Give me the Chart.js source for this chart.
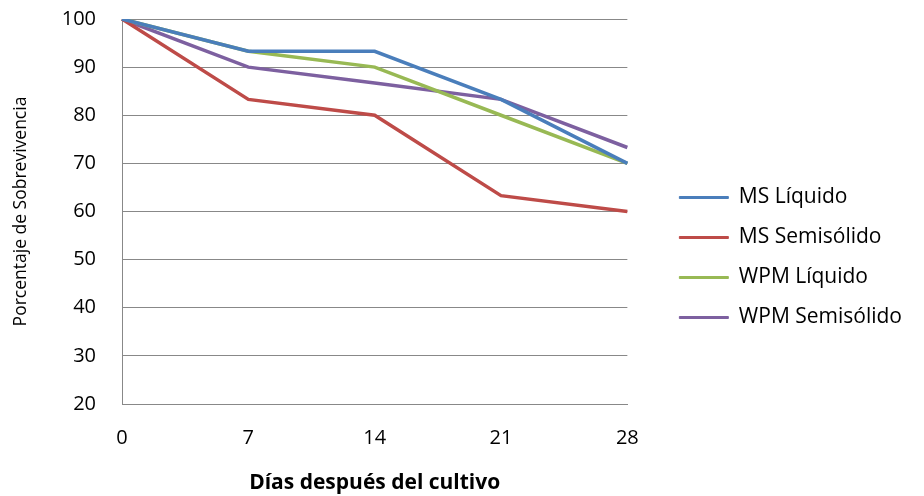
<!DOCTYPE html>
<html>
<head>
<meta charset="utf-8">
<script src="https://cdn.jsdelivr.net/npm/chart.js@4"></script>
<style>
  html, body { margin: 0; padding: 0; background: #fff; }
  #wrap { width: 924px; height: 496px; }
</style>
</head>
<body>
<div id="wrap"><canvas id="c" width="924" height="496"></canvas></div>
<script>
// Días después del cultivo
const dias = ['0', '7', '14', '21', '28'];

// Porcentaje de sobrevivencia por medio de cultivo
const msLiquido      = [100, 93.3, 93.3, 83.3, 70];
const msSemisolido   = [100, 83.3, 80, 63.3, 60];
const wpmLiquido     = [100, 93.3, 90, 80, 70];
const wpmSemisolido  = [100, 90, 86.7, 83.3, 73.3];

const yMin = 20, yMax = 100, yStep = 10;

const FONT = '"Open Sans", "Liberation Sans", sans-serif';

function serie(label, data, color) {
  return {
    label, data,
    borderColor: color,
    backgroundColor: color,
    borderWidth: 3.5,
    pointRadius: 0,
    pointHoverRadius: 0,
    tension: 0,
    fill: false
  };
}

new Chart(document.getElementById('c'), {
  type: 'line',
  data: {
    labels: dias,
    datasets: [
      serie('MS Líquido', msLiquido, '#4a7ebb'),
      serie('MS Semisólido', msSemisolido, '#be4b48'),
      serie('WPM Líquido', wpmLiquido, '#98b954'),
      serie('WPM Semisólido', wpmSemisolido, '#7d60a0')
    ]
  },
  options: {
    responsive: false,
    animation: false,
    layout: { padding: { left: 11, right: 12, top: 19, bottom: 0 } },
    plugins: {
      tooltip: { enabled: false },
      legend: {
        position: 'right',
        align: 'center',
        maxWidth: 300,
        labels: {
          boxWidth: 49,
          boxHeight: 2,
          padding: 19,
          color: '#000',
          font: { family: FONT, size: 21 },
          generateLabels: (chart) => chart.data.datasets.map((ds, i) => ({
            text: ds.label,
            fillStyle: ds.borderColor,
            strokeStyle: ds.borderColor,
            lineWidth: 1,
            fontColor: '#000',
            hidden: !chart.isDatasetVisible(i),
            datasetIndex: i
          }))
        }
      }
    },
    scales: {
      x: {
        offset: false,
        afterFit: (s) => { s.height = 92; },
        grid: { display: false, drawTicks: false },
        border: { display: true, color: '#888', width: 1 },
        ticks: { color: '#000', padding: 22, font: { family: FONT, size: 20 }, maxRotation: 0 },
        title: {
          display: true,
          text: 'Días después del cultivo',
          color: '#000',
          font: { family: FONT, size: 21, weight: 'bold' },
          padding: { top: 0, bottom: 0 }
        }
      },
      y: {
        min: yMin,
        max: yMax,
        afterFit: (s) => { s.width = 111; s.paddingTop = 0; s.paddingBottom = 0; },
        grid: { color: '#888', drawTicks: false, lineWidth: 1 },
        border: { display: true, color: '#888', width: 1 },
        ticks: { stepSize: yStep, color: '#000', padding: 26, font: { family: FONT, size: 20 } },
        title: {
          display: true,
          text: 'Porcentaje de Sobrevivencia',
          color: '#000',
          font: { family: FONT, size: 17.5 },
          padding: { top: 0, bottom: 0 }
        }
      },
      // empty strip between the plot and the legend
      gap: {
        type: 'linear',
        position: 'right',
        display: true,
        afterFit: (s) => { s.width = 33; },
        grid: { display: false, drawOnChartArea: false, drawTicks: false },
        border: { display: false },
        ticks: { display: false }
      }
    }
  }
});
</script>
</body>
</html>
